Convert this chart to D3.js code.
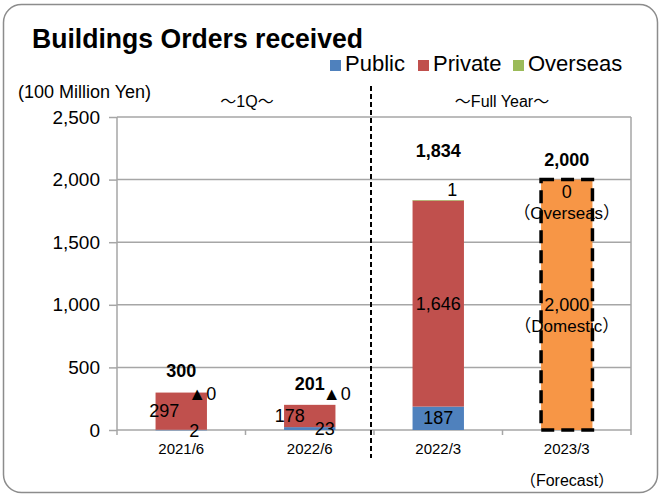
<!DOCTYPE html>
<html lang="en">
<head>
<meta charset="utf-8">
<title>Buildings Orders received</title>
<script src="https://d3js.org/d3.v7.min.js"></script>
<style>
  body { margin: 0; background: #fff; }
  svg text { font-family: "Liberation Sans", Arial, sans-serif; fill: #000; }
  svg text.cjk { font-family: "Liberation Sans", "Noto Sans CJK JP", sans-serif; }
  .grid line { stroke: #a6a6a6; stroke-width: 1.5px; }
</style>
</head>
<body>
<svg width="665" height="495"></svg>
<script>
// data (100 million yen)
var periods = ["2021/6", "2022/6", "2022/3", "2023/3"];
var publicVals = [2, 23, 187, 0];
var privateVals = [297, 178, 1646, 0];
var overseasVals = [0, 0, 1, 0];
var domesticForecast = [0, 0, 0, 2000];
var totals = [300, 201, 1834, 2000];
var overseasText = ["▲0", "▲0", "1", "0"];
var yTicks = [0, 500, 1000, 1500, 2000, 2500];
var seriesNames = ["Public", "Private", "Overseas"];
var seriesColors = ["#4f81bd", "#c0504d", "#9bbb59"];

var svg = d3.select("svg");
var margin = {top: 117, right: 34, bottom: 65, left: 117};
var width = 665 - margin.left - margin.right,
    height = 495 - margin.top - margin.bottom;

// outer frame
svg.append("rect")
  .attr("x", 3.5).attr("y", 4.5)
  .attr("width", 654).attr("height", 488)
  .attr("rx", 18)
  .attr("fill", "none")
  .attr("stroke", "#8c8c8c")
  .attr("stroke-width", 1.5);

svg.append("text")
  .attr("x", 32).attr("y", 48)
  .attr("textLength", 331).attr("lengthAdjust", "spacingAndGlyphs")
  .style("font-size", "28px").style("font-weight", "bold")
  .text("Buildings Orders received");

// legend
var leg = svg.append("g").selectAll("g")
  .data(seriesNames).enter().append("g");
var legX = [330, 418, 513];
leg.append("rect")
  .attr("x", function(d, i) { return legX[i]; })
  .attr("y", 60).attr("width", 11).attr("height", 11)
  .attr("fill", function(d, i) { return seriesColors[i]; });
leg.append("text")
  .attr("x", function(d, i) { return legX[i] + 15; })
  .attr("y", 71)
  .style("font-size", "22px")
  .text(function(d) { return d; });

svg.append("text").attr("x", 18).attr("y", 98)
  .style("font-size", "18px").text("(100 Million Yen)");

var g = svg.append("g").attr("transform", "translate(" + margin.left + "," + margin.top + ")");

var x = d3.scaleBand().domain(periods).range([0, width]).paddingInner(0.6).paddingOuter(0.3);
var y = d3.scaleLinear().domain([0, 2500]).range([height, 0]);
var step = x.step();

// gridlines
g.append("g").attr("class", "grid").selectAll("line")
  .data(yTicks.slice(1)).enter().append("line")
  .attr("x1", 0).attr("x2", width)
  .attr("y1", function(d) { return y(d); })
  .attr("y2", function(d) { return y(d); });
g.append("line").attr("x1", width).attr("x2", width).attr("y1", 0).attr("y2", height)
  .attr("stroke", "#a6a6a6").attr("stroke-width", 1.5);

// y axis
var yAxis = g.append("g")
  .call(d3.axisLeft(y).tickValues(yTicks).tickSize(8).tickPadding(9).tickFormat(d3.format(",")));
yAxis.selectAll("text").style("font-size", "19px").attr("fill", "#000");
yAxis.selectAll("line, path").attr("stroke", "#a6a6a6").attr("stroke-width", 1.5);
yAxis.select("path").attr("d", "M0," + height + "V0");

// x axis
var bounds = d3.range(periods.length + 1).map(function(i) { return i * step; });
g.append("line").attr("x1", 0).attr("x2", width).attr("y1", height).attr("y2", height)
  .attr("stroke", "#a6a6a6").attr("stroke-width", 1.5);
g.selectAll(".xtick").data(bounds).enter().append("line")
  .attr("x1", function(d) { return d; }).attr("x2", function(d) { return d; })
  .attr("y1", height).attr("y2", height + 5)
  .attr("stroke", "#a6a6a6").attr("stroke-width", 1.5);
g.selectAll(".xlab").data(periods).enter().append("text")
  .attr("x", function(d) { return x(d) + x.bandwidth() / 2; })
  .attr("y", height + 24)
  .attr("text-anchor", "middle")
  .style("font-size", "15px")
  .text(function(d) { return d; });

// stacked bars
var stacks = periods.map(function(p, i) {
  var a = publicVals[i], b = a + privateVals[i], c = b + overseasVals[i];
  return [
    {p: p, y0: 0, y1: a, color: seriesColors[0]},
    {p: p, y0: a, y1: b, color: seriesColors[1]},
    {p: p, y0: b, y1: c, color: seriesColors[2]}
  ];
});
g.selectAll(".seg").data(d3.merge(stacks).filter(function(d) { return d.y1 > d.y0; }))
  .enter().append("rect")
  .attr("x", function(d) { return x(d.p); })
  .attr("width", x.bandwidth())
  .attr("y", function(d) { return y(d.y1); })
  .attr("height", function(d) { return Math.max(y(d.y0) - y(d.y1), 0.6); })
  .attr("fill", function(d) { return d.color; });

// forecast bar
g.selectAll(".fc").data(periods.filter(function(p, i) { return domesticForecast[i] > 0; }))
  .enter().append("rect")
  .attr("x", function(d) { return x(d); })
  .attr("width", x.bandwidth())
  .attr("y", function(d) { return y(domesticForecast[periods.indexOf(d)]); })
  .attr("height", function(d) { return height - y(domesticForecast[periods.indexOf(d)]); })
  .attr("fill", "#f79646")
  .attr("stroke", "#000").attr("stroke-width", 3.5)
  .attr("stroke-dasharray", "13,7");

// divider between 1Q and full year
svg.append("line")
  .attr("x1", 371).attr("x2", 371).attr("y1", 86).attr("y2", 458)
  .attr("stroke", "#000").attr("stroke-width", 2).attr("stroke-dasharray", "5,3");
svg.append("text").attr("class", "cjk").attr("x", 247).attr("y", 107).attr("text-anchor", "middle")
  .style("font-size", "16px").text("～1Q～");
svg.append("text").attr("class", "cjk").attr("x", 502).attr("y", 107).attr("text-anchor", "middle")
  .style("font-size", "16px").text("～Full Year～");

function cx(i) { return x(periods[i]) + x.bandwidth() / 2; }
function lab(px, py, txt, size, bold) {
  return g.append("text").attr("class", "cjk").attr("x", px).attr("y", py).attr("text-anchor", "middle")
    .style("font-size", size + "px").style("font-weight", bold ? "bold" : "normal")
    .text(txt);
}

// totals
var totalLift = [15, 15, 43, 14];
totals.forEach(function(t, i) {
  lab(cx(i), y(t) - totalLift[i], d3.format(",")(t), 18, true);
});

var f = d3.format(",");
// 2021/6
lab(cx(0) - 17, y(publicVals[0] + privateVals[0] / 2) + 6, f(privateVals[0]), 18);
lab(cx(0) + 13, height + 7, f(publicVals[0]), 18);
lab(cx(0) + 21, 400 - margin.top, overseasText[0], 18);
// 2022/6
lab(cx(1) - 20, y(publicVals[1] + privateVals[1] / 2) + 6, f(privateVals[1]), 18);
lab(cx(1) + 15, height + 5, f(publicVals[1]), 18);
lab(cx(1) + 27, 400 - margin.top, overseasText[1], 18);
// 2022/3
lab(cx(2), y(publicVals[2] / 2) + 6, f(publicVals[2]), 18);
lab(cx(2), y(publicVals[2] + privateVals[2] / 2) + 6, f(privateVals[2]), 18);
lab(cx(2) + 14, y(totals[2]) - 4, overseasText[2], 18);
// 2023/3 forecast
lab(cx(3), y(totals[3]) + 18, overseasText[3], 18);
lab(cx(3), y(totals[3]) + 39, "（Overseas）", 17);
lab(cx(3), y(domesticForecast[3] / 2) + 6, f(domesticForecast[3]), 18);
lab(cx(3), y(domesticForecast[3] / 2) + 27, "（Domestic）", 17);

svg.append("text").attr("class", "cjk").attr("x", 567).attr("y", 486).attr("text-anchor", "middle")
  .style("font-size", "16px").text("（Forecast）");
</script>
</body>
</html>
